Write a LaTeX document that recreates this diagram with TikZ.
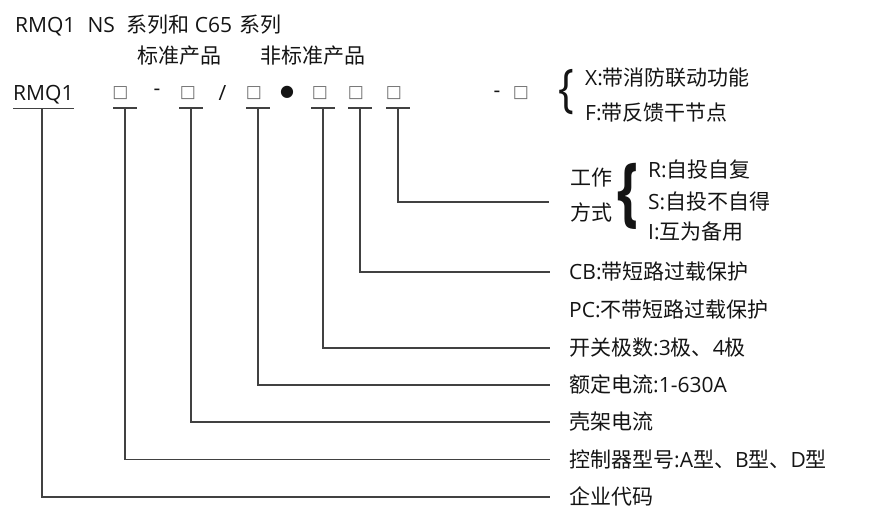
\documentclass[tikz,border=0pt]{standalone}
\usepackage{fontspec}
\usepackage{graphicx}
\setmainfont{Open Sans}
\newfontfamily\cjk{Noto Sans CJK SC}
\newfontfamily\symf{DejaVu Sans}
\newcommand\zh[1]{{\cjk #1}}
\definecolor{txtc}{RGB}{20,20,20}
\definecolor{linec}{RGB}{65,65,65}
\definecolor{sqc}{RGB}{110,110,110}
\begin{document}
\begin{tikzpicture}[x=1pt,y=-1pt,
  txt/.style={font=\fontsize{21}{24}\selectfont, text=txtc, inner sep=0pt,
    text height=17.5pt, text depth=2.5pt, anchor=west},
  lab/.style={txt, inner xsep=19pt},
  conn/.style={draw=linec, line width=1.2pt},
  slot/.style={font=\symf\fontsize{17}{17}\selectfont, text=sqc, inner sep=0pt},
  dotsym/.style={font=\symf\fontsize{16}{16}\selectfont, text=txtc, inner sep=0pt},
  sym/.style={font=\fontsize{21}{24}\selectfont, text=txtc, inner sep=0pt, anchor=base},
  bracesym/.style={text=txtc, inner sep=0pt, anchor=base west}
]
\useasboundingbox (0,0) rectangle (876,519);

% header
\node[txt] (title) at (15,25) {RMQ1\hspace{12pt}NS\hspace{12pt}\zh{系列和}\hspace{5pt}C65\hspace{7pt}\zh{系列}};
\node[txt] (std) at (137,56) {\zh{标准产品}};
\node[txt] (nstd) at (260,56) {\zh{非标准产品}};

% code row
\node[txt] (rmq) at (13,93) {RMQ1};
\node[slot] (s1) at (120.5,93.5) {□};
\node[sym] (d1) at (157,95.5) {-};
\node[slot] (s2) at (188,93.5) {□};
\node[sym] (sl) at (222.5,100.5) {/};
\node[slot] (s3) at (254,93.5) {□};
\node[dotsym] (dot) at (287,92) {●};
\node[slot] (s4) at (320,93.5) {□};
\node[slot] (s5) at (356,93.5) {□};
\node[slot] (s6) at (394,93.5) {□};
\node[sym] (d2) at (497,97.5) {-};
\node[slot] (s7) at (521,93.5) {□};

% underline anchors
\coordinate (u0) at (42,108);
\coordinate (u1) at (125,108);
\coordinate (u2) at (191,108);
\coordinate (u3) at (258,108);
\coordinate (u4) at (323,108);
\coordinate (u5) at (360,108);
\coordinate (u6) at (398,108);

\draw[conn] ([yshift=-5pt]rmq.south west) -- ([yshift=-5pt]rmq.south east);
\foreach \u in {u1,u2,u3,u4,u5,u6}
  \draw[conn] ([xshift=-12pt]\u) -- ([xshift=12pt]\u);

% options X / F
\node[bracesym, font=\fontsize{52}{52}\selectfont] (b1) at (558.5,106.9) {\scalebox{0.8}[1]{\{}};
\node[txt] (fx) at (585,78) {X:\zh{带消防联动功能}};
\node[txt] (ff) at (585,113) {F:\zh{带反馈干节点}};

% working mode
\node[txt] (mode1) at (570,178) {\zh{工作}};
\node[txt] (mode2) at (570,213) {\zh{方式}};
\node[bracesym, font=\fontsize{76}{76}\selectfont\bfseries] (b2) at (617,217.2) {\scalebox{0.7}[1]{\{}};
\node[txt] (mr) at (648,170) {R:\zh{自投自复}};
\node[txt] (ms) at (648,202) {S:\zh{自投不自得}};
\node[txt] (mi) at (648,232) {I:\zh{互为备用}};

% labels
\node[lab] (l5) at (550,272) {CB:\zh{带短路过载保护}};
\node[lab] (l5b) at (550,310) {PC:\zh{不带短路过载保护}};
\node[lab] (l4) at (550,348) {\zh{开关极数}:3\zh{极、}4\zh{极}};
\node[lab] (l3) at (550,385) {\zh{额定电流}:1-630A};
\node[lab] (l2) at (550,422) {\zh{壳架电流}};
\node[lab] (l1) at (550,459.5) {\zh{控制器型号}:A\zh{型、}B\zh{型、}D\zh{型}};
\node[lab] (l0) at (550,497) {\zh{企业代码}};

% connectors
\draw[conn] (u0) |- (l0.west);
\draw[conn] (u1) |- (l1.west);
\draw[conn] (u2) |- (l2.west);
\draw[conn] (u3) |- (l3.west);
\draw[conn] (u4) |- (l4.west);
\draw[conn] (u5) |- (l5.west);
\draw[conn, shorten >=21pt] (u6) |- (mode1.west |- ms.west);
\end{tikzpicture}
\end{document}
